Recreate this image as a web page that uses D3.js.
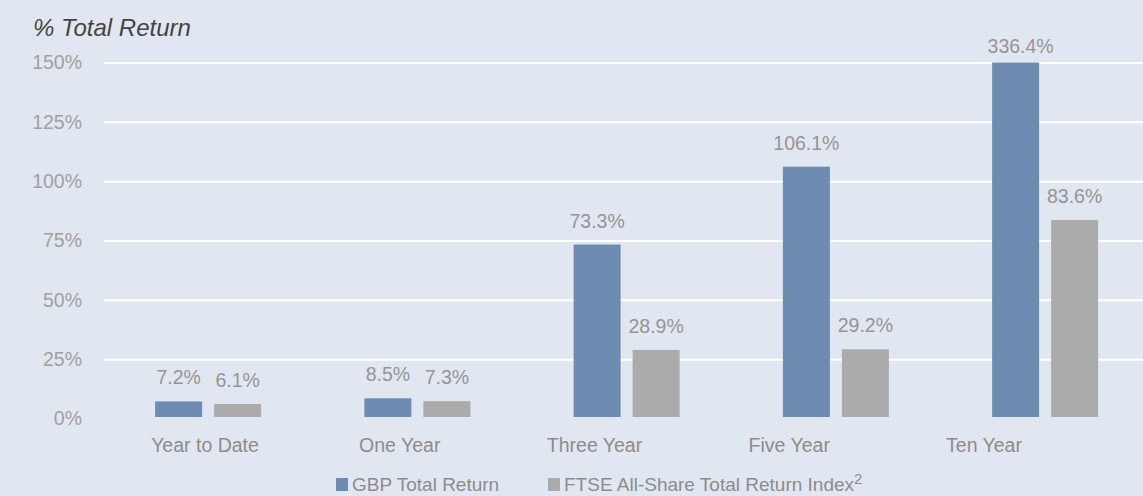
<!DOCTYPE html>
<html>
<head>
<meta charset="utf-8">
<script src="https://cdn.jsdelivr.net/npm/d3@7"></script>
<style>
  html, body { margin: 0; padding: 0; background: #e1e7f0; }
  svg { display: block; font-family: "Liberation Sans", Arial, sans-serif; }
</style>
</head>
<body>
<svg id="chart" width="1143" height="496"></svg>
<script>
const categories = ["Year to Date", "One Year", "Three Year", "Five Year", "Ten Year"];
const seriesNames = ["GBP Total Return", "FTSE All-Share Total Return Index"];
const gbpValues = [7.2, 8.5, 73.3, 106.1, 336.4];
const ftseValues = [6.1, 7.3, 28.9, 29.2, 83.6];
const yTicks = [0, 25, 50, 75, 100, 125, 150];
const colors = ["#6e8bb1", "#ababab"];

const W = 1143, H = 496;
const svg = d3.select("#chart");
svg.append("rect").attr("width", W).attr("height", H).attr("fill", "#e1e7f0");

const yMax = 150;
const y = d3.scaleLinear().domain([0, yMax]).range([418.5, 62.5]);
const x0 = d3.scaleBand().domain(categories).range([103.5, 1149.75]);
const x1 = d3.scaleBand().domain(seriesNames).range([0, 106]).paddingInner(0.2034);
const labelX = d3.scalePoint().domain(categories).range([205, 984]);
const color = d3.scaleOrdinal().domain(seriesNames).range(colors);

// grid + y axis
const yAxis = d3.axisLeft(y).tickValues(yTicks).tickFormat(d => d + "%")
  .tickSize(-(W - 104)).tickPadding(22);
const gy = svg.append("g").attr("transform", "translate(104,0)").call(yAxis);
gy.select(".domain").remove();
gy.selectAll(".tick line").attr("stroke", "#ffffff").attr("stroke-width", 2)
  .attr("opacity", d => d === 0 ? 0 : 1);
gy.selectAll(".tick text").attr("fill", "#a0a0a0").attr("font-size", "19.5px")
  .attr("font-family", "'Liberation Sans', Arial, sans-serif");

// title
svg.append("text").attr("x", 33).attr("y", 36).attr("font-size", "24px")
  .attr("font-style", "italic").attr("fill", "#444444").text("% Total Return");

// bars
const rows = categories.map((c, i) => ({ cat: c, vals: [
  { name: seriesNames[0], v: gbpValues[i] },
  { name: seriesNames[1], v: ftseValues[i] }
]}));

const offset = x0.bandwidth() / 2 - 53;
const groups = svg.append("g").selectAll("g").data(rows).join("g")
  .attr("transform", d => `translate(${x0(d.cat) + offset},0)`);

groups.selectAll("rect").data(d => d.vals).join("rect")
  .attr("x", d => x1(d.name))
  .attr("width", x1.bandwidth())
  .attr("y", d => y(Math.min(d.v, yMax)))
  .attr("height", d => y(0) - y(Math.min(d.v, yMax)) - 1.5)
  .attr("fill", d => color(d.name));

groups.selectAll("text").data(d => d.vals).join("text")
  .attr("x", d => x1(d.name) + x1.bandwidth() / 2 + (d.v > yMax ? 5 : 0))
  .attr("y", d => d.v > yMax ? y(yMax) - 10 : y(d.v) - 17)
  .attr("text-anchor", "middle")
  .attr("font-size", "19.5px")
  .attr("fill", "#959595")
  .text(d => d.v.toFixed(1) + "%");

// category labels
svg.append("g").selectAll("text").data(categories).join("text")
  .attr("x", d => labelX(d)).attr("y", 452)
  .attr("text-anchor", "middle").attr("font-size", "19.5px").attr("fill", "#8c8c8c")
  .text(d => d);

// legend
const legendX = [336, 548];
const lg = svg.append("g").selectAll("g").data(seriesNames).join("g")
  .attr("transform", (d, i) => `translate(${legendX[i]},0)`);
lg.append("rect").attr("x", 0).attr("y", 478).attr("width", 12).attr("height", 13)
  .attr("fill", d => color(d));
const lt = lg.append("text").attr("x", 16).attr("y", 491).attr("font-size", "19px")
  .attr("fill", "#8c8c8c");
lt.append("tspan").text(d => d);
lt.filter((d, i) => i === 1).append("tspan").attr("dy", -7).attr("font-size", "15px").text("2");
</script>
</body>
</html>
